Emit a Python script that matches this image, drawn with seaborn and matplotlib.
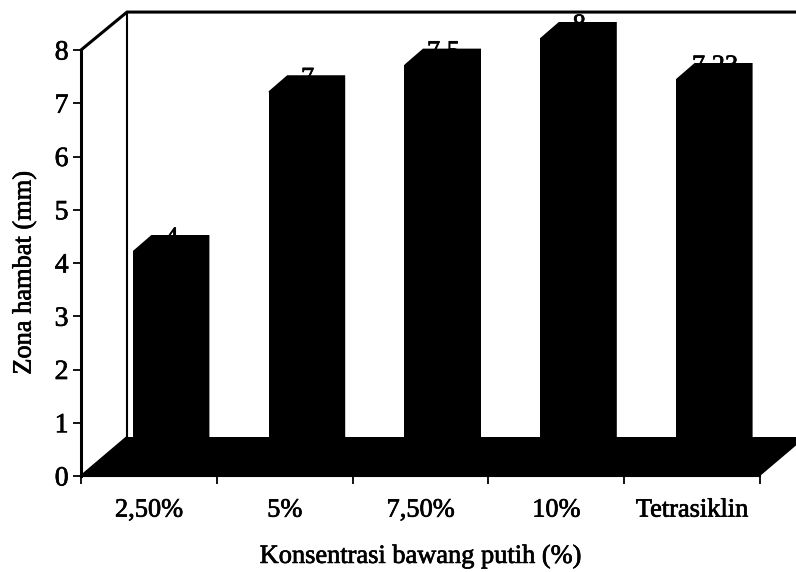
import matplotlib
matplotlib.use('Agg')
import matplotlib.pyplot as plt
import matplotlib.patheffects as pe
import seaborn as sns

# --- data ---
categories = ['2,50%', '5%', '7,50%', '10%', 'Tetrasiklin']
values = [4, 7, 7.5, 8, 7.23]
value_labels = ['4', '7', '7,5', '8', '7,23']
y_ticks = [0, 1, 2, 3, 4, 5, 6, 7, 8]

# --- depth of the fake 3D look, in data units ---
WALL_DX, WALL_DY = 46 / 135.8, 39 / 53.25
BAR_SHIFT_X, BAR_SHIFT_Y = 13 / 135.8, 12 / 53.25
BAR_DX, BAR_DY = 18.5 / 135.8, 16 / 53.25
FONT = 19

sns.set_theme(style='ticks')
plt.rcParams['font.family'] = ['Liberation Serif', 'DejaVu Serif']

W, H = 796, 572
fig = plt.figure(figsize=(W / 100, H / 100), dpi=100)
ax = fig.add_axes([81 / W, (H - 476) / H, 679 / W, 426 / H])

sns.barplot(x=categories, y=values, color='black', saturation=1,
            width=58 / 135.8, linewidth=0, edgecolor='black', ax=ax, zorder=3)
ax.set_xlim(-0.5, 4.5)
ax.set_ylim(0, 8)

# floor and back wall
x0, x1 = -0.5, 4.5
ax.fill([x0, x0 + WALL_DX, x1 + WALL_DX, x1], [0, WALL_DY, WALL_DY, 0],
        color='black', lw=0, clip_on=False, zorder=2)
ax.plot([x0, x0 + WALL_DX, x0 + WALL_DX], [0, WALL_DY, 8 + WALL_DY - 0.02],
        color='black', lw=1.5, clip_on=False, zorder=1)
ax.plot([x0, x0 + WALL_DX, x1 + WALL_DX], [8, 8 + WALL_DY - 0.02, 8 + WALL_DY - 0.02],
        color='black', lw=2.2, clip_on=False, zorder=4, solid_joinstyle='miter')

# push the bars back and add top and side faces
for bar, h in zip(ax.patches, values):
    bar.set_x(bar.get_x() + BAR_SHIFT_X)
    bar.set_y(BAR_SHIFT_Y)
    bar.set_clip_on(False)
    left = bar.get_x()
    right = left + bar.get_width()
    top = h + BAR_SHIFT_Y
    ax.fill([left, left + BAR_DX, right + BAR_DX, right + BAR_DX, right],
            [top, top + BAR_DY, top + BAR_DY, BAR_SHIFT_Y, BAR_SHIFT_Y],
            color='black', lw=0, clip_on=False, zorder=3)

# value labels sit behind the bars like in the original
for i, (h, lab) in enumerate(zip(values, value_labels)):
    ax.annotate(lab, (i, h), xytext=(16.5, 13), textcoords='offset points',
                ha='center', va='baseline', fontsize=FONT, color='black',
                zorder=1.5, annotation_clip=False)

# axes
sns.despine(ax=ax, top=True, right=True)
ax.spines['left'].set_linewidth(2.2)
ax.spines['bottom'].set_linewidth(1.5)
ax.spines['left'].set_color('black')
ax.spines['bottom'].set_color('black')

ax.set_yticks(y_ticks)
ax.tick_params(axis='y', direction='out', length=6, width=1.3, pad=3,
               labelsize=FONT + 1, colors='black')
ax.set_xticks([i - 0.5 for i in range(len(categories) + 1)])
ax.set_xticklabels([])
ax.set_xticks(range(len(categories)), categories, minor=True)
ax.tick_params(axis='x', which='major', direction='out', length=6, width=1.3, colors='black')
ax.tick_params(axis='x', which='minor', length=0, pad=17, labelsize=FONT, colors='black')

ax.set_xlabel('Konsentrasi bawang putih (%)', fontsize=FONT, color='black', labelpad=17)
ax.set_ylabel('Zona hambat (mm)', fontsize=FONT, color='black')
ax.yaxis.set_label_coords((36 - 81) / 679, 0.477)

# the scan makes the type look heavier
heavy = [pe.withStroke(linewidth=0.5, foreground='black')]
for t in ax.get_yticklabels() + ax.get_xticklabels(minor=True) + ax.texts + [ax.xaxis.label, ax.yaxis.label]:
    t.set_path_effects(heavy)

fig.savefig('out.png', dpi=100)
